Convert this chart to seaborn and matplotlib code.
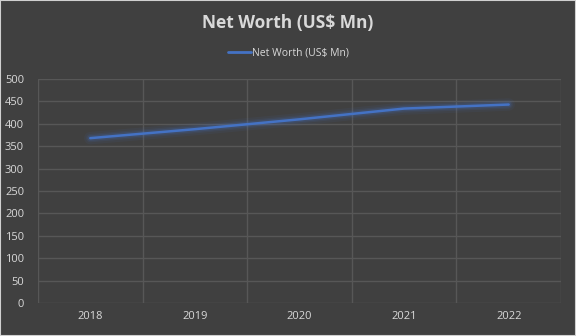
import matplotlib
matplotlib.use("Agg")
import matplotlib.pyplot as plt
import matplotlib.patheffects as pe
import seaborn as sns
import pandas as pd
import numpy as np

years = ["2018", "2019", "2020", "2021", "2022"]
net_worth = [368, 388, 410, 434, 443]
series_name = "Net Worth (US$ Mn)"
yticks = list(range(0, 501, 50))

df = pd.DataFrame({"Year": years, "Value": net_worth})

sns.set_theme(style="dark")
plt.rcParams["font.family"] = ["Open Sans", "DejaVu Sans"]

bg = "#404040"
txt = "#D9D9D9"
grid_c = "#575757"
line_c = "#4472C4"

fig = plt.figure(figsize=(5.76, 3.36), dpi=100, facecolor=bg)
ax = fig.add_axes([38/576, 1-303/336, (561-38)/576, (303-79)/336])
ax.set_facecolor(bg)

sns.lineplot(data=df, x="Year", y="Value", ax=ax, color=line_c, linewidth=1.8,
             label=series_name, sort=False,
             path_effects=[pe.Stroke(linewidth=9, foreground=line_c, alpha=0.07),
                           pe.Stroke(linewidth=6, foreground=line_c, alpha=0.1),
                           pe.Stroke(linewidth=4, foreground=line_c, alpha=0.18),
                           pe.Normal()])

ax.set_xlim(-0.5, len(years) - 0.5)
ax.set_ylim(0, 500)
ax.set_yticks(yticks)
ax.set_xticks(range(len(years)))
ax.set_xticklabels(years)
ax.set_xticks(np.arange(-0.5, len(years), 1.0), minor=True)
ax.grid(False)
ax.yaxis.grid(True, color=grid_c, linewidth=1)
ax.xaxis.grid(True, which="minor", color=grid_c, linewidth=1)
ax.set_axisbelow(True)
for s in ax.spines.values():
    s.set_visible(False)
ax.tick_params(axis="both", which="both", length=0, colors=txt, labelsize=8)
ax.tick_params(axis="y", pad=10)
ax.tick_params(axis="x", pad=6)
ax.set_xlabel("")
ax.set_ylabel("")

leg = ax.legend(loc="center", bbox_to_anchor=(0.5, (336-53)/336), bbox_transform=fig.transFigure,
                frameon=False, fontsize=7.5, handlelength=2.2, handletextpad=0.1)
for t in leg.get_texts():
    t.set_color(txt)
for h in leg.get_lines():
    h.set_path_effects([])
    h.set_linewidth(2)

fig.text(0.5, 1-23/336, "Net Worth (US$ Mn)", ha="center", va="center",
         color=txt, fontsize=12.5, fontweight="bold")

fig.patches.append(plt.Rectangle((0, 0), 1, 1, transform=fig.transFigure,
                                 fill=False, edgecolor="#D0D0D0", linewidth=1.5))

fig.savefig("out.png", dpi=100, facecolor=bg)
